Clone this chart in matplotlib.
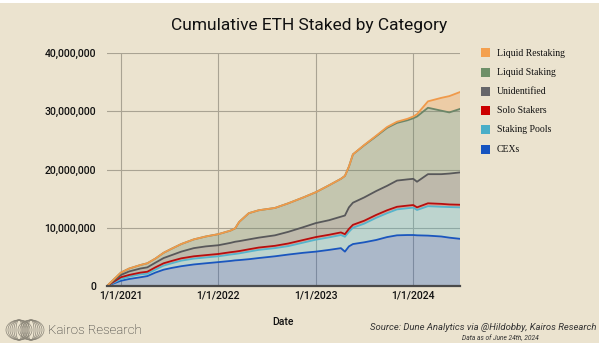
import matplotlib
matplotlib.use("Agg")
import matplotlib.pyplot as plt
import matplotlib.dates as mdates
from matplotlib.patches import Rectangle, Ellipse
from matplotlib.ticker import FuncFormatter, MultipleLocator
import pandas as pd

# dates of the sampled points
dates = [
    "2020-11-10", "2021-01-01", "2021-02-01", "2021-03-15", "2021-04-10",
    "2021-05-10", "2021-06-10", "2021-07-10", "2021-08-15", "2021-10-01",
    "2021-11-15", "2022-01-01", "2022-02-15", "2022-03-05", "2022-03-20",
    "2022-04-25", "2022-06-01", "2022-08-01", "2022-09-20", "2022-11-15",
    "2023-01-01", "2023-02-20", "2023-04-05", "2023-04-20", "2023-05-05",
    "2023-05-20", "2023-07-01", "2023-08-15", "2023-09-25", "2023-11-01",
    "2023-12-10", "2024-01-01", "2024-01-15", "2024-02-25", "2024-04-15",
    "2024-05-15", "2024-06-24",
]

# ETH staked per category, millions
cexs = [0, 0.9, 1.2, 1.5, 1.7, 2.3, 2.8, 3.1, 3.4, 3.7, 3.9, 4.1, 4.3, 4.4,
        4.45, 4.6, 4.8, 5.1, 5.4, 5.7, 5.9, 6.2, 6.5, 5.9, 6.8, 7.2, 7.5, 7.9,
        8.4, 8.7, 8.75, 8.75, 8.7, 8.65, 8.5, 8.3, 8.1]
staking_pools = [0, 0.3, 0.4, 0.5, 0.4, 0.5, 0.7, 0.8, 0.95, 1.0, 1.0, 1.0,
                 1.1, 1.1, 1.15, 1.3, 1.4, 1.4, 1.45, 1.75, 2.05, 2.15, 2.25,
                 2.55, 2.5, 2.8, 3.2, 3.8, 4.1, 4.45, 4.6, 4.7, 4.35, 5.05,
                 5.1, 5.25, 5.4]
solo_stakers = [0, 0.3, 0.3, 0.3, 0.35, 0.4, 0.4, 0.4, 0.4, 0.4, 0.4, 0.4,
                0.4, 0.4, 0.4, 0.4, 0.4, 0.4, 0.45, 0.45, 0.45, 0.45, 0.45,
                0.45, 0.5, 0.5, 0.5, 0.5, 0.5, 0.45, 0.45, 0.45, 0.45, 0.5,
                0.5, 0.45, 0.45]
unidentified = [0, 0.4, 0.6, 0.7, 0.75, 0.8, 0.9, 1.0, 1.15, 1.4, 1.5, 1.5,
                1.6, 1.7, 1.7, 1.7, 1.7, 1.8, 2.0, 2.2, 2.4, 2.5, 2.7, 3.2,
                3.7, 3.8, 4.0, 4.1, 4.2, 4.5, 4.5, 4.5, 4.4, 5.0, 5.1, 5.3,
                5.55]
liquid_staking = [0, 0.4, 0.5, 0.6, 0.7, 0.7, 0.9, 1.1, 1.3, 1.5, 1.7, 1.9,
                  2.1, 2.3, 3.3, 4.5, 4.7, 4.7, 4.9, 5.1, 5.3, 6.0, 6.5, 6.8,
                  7.0, 8.3, 8.95, 9.4, 9.95, 9.9, 10.15, 10.4, 11.2, 11.4,
                  10.9, 10.5, 10.9]
liquid_restaking = [0, 0, 0, 0, 0, 0, 0, 0, 0, 0, 0, 0, 0, 0, 0, 0, 0, 0, 0,
                    0, 0, 0, 0, 0, 0, 0, 0.05, 0.1, 0.15, 0.2, 0.25, 0.3, 0.4,
                    1.1, 2.2, 2.8, 2.9]

labels = ["CEXs", "Staking Pools", "Solo Stakers", "Unidentified",
          "Liquid Staking", "Liquid Restaking"]
line_colors = ["#1A56BE", "#55B4CC", "#B80E0E", "#58585A", "#6C8668", "#F09A4A"]
swatch_colors = ["#1654C0", "#4AAEC8", "#CC0000", "#66666A", "#6E9068", "#F4A04E"]

BG = "#EBE3CF"

x = pd.to_datetime(dates)
series = [cexs, staking_pools, solo_stakers, unidentified, liquid_staking,
          liquid_restaking]
series = [[v * 1e6 for v in s] for s in series]

fig = plt.figure(figsize=(6.0, 3.46), dpi=100)
fig.patch.set_facecolor("white")
fig.patches.append(Rectangle((0, 0.008), 0.998, 0.983, transform=fig.transFigure,
                             facecolor=BG, edgecolor="none", zorder=-10))

ax = fig.add_axes([107 / 600, 1 - 286 / 346, 353 / 600, 233 / 346])
ax.set_facecolor(BG)

ax.stackplot(x, *series, colors=line_colors, alpha=0.3, linewidth=0)
bottom = [0.0] * len(x)
for s, c in zip(series, line_colors):
    bottom = [b + v for b, v in zip(bottom, s)]
    ax.plot(x, bottom, color=c, linewidth=1.3, solid_joinstyle="round", zorder=3)

ax.set_xlim(pd.Timestamp("2020-11-10"), pd.Timestamp("2024-06-24"))
ax.set_ylim(0, 40e6)
ax.yaxis.set_major_locator(MultipleLocator(10e6))
ax.yaxis.set_major_formatter(FuncFormatter(lambda v, p: f"{int(v):,}"))
ax.xaxis.set_major_locator(mdates.YearLocator())
ax.xaxis.set_major_formatter(FuncFormatter(
    lambda v, p: f"{mdates.num2date(v).month}/{mdates.num2date(v).day}/{mdates.num2date(v).year}"))

ax.grid(True, color="#A9A393", linewidth=0.8)
ax.set_axisbelow(True)
for side in ["top", "right", "left"]:
    ax.spines[side].set_visible(False)
ax.spines["bottom"].set_color("#4A4A4A")
ax.spines["bottom"].set_linewidth(1.6)
ax.spines["bottom"].set_zorder(4)
ax.tick_params(length=0, labelsize=7.5, colors="#111111")
ax.tick_params(axis="y", pad=8)
ax.tick_params(axis="x", pad=3)
for lab in ax.get_xticklabels() + ax.get_yticklabels():
    lab.set_fontfamily("Roboto")
    lab.set_fontweight("medium")

fig.text(0.515, 0.925, "Cumulative ETH Staked by Category", ha="center",
         va="center", fontsize=12.5, family="Roboto", color="#111111")
fig.text(0.472, 0.068, "Date", ha="center", va="center", fontsize=7.5,
         family="Roboto", fontweight="medium", color="#111111")

# legend, top entry first
for i, (lab, c) in enumerate(zip(labels[::-1], swatch_colors[::-1])):
    yc = 1 - (53 + i * 19.2) / 346
    fig.patches.append(Rectangle((481 / 600, yc - 4.5 / 346), 9 / 600, 9 / 346,
                                 transform=fig.transFigure, facecolor=c,
                                 edgecolor="none"))
    fig.text(497 / 600, yc, lab, ha="left", va="center", fontsize=7,
             family="Liberation Serif", color="#111111")

# footer: logo and source note
for w in [6, 10, 14, 18, 22, 26]:
    for cx in [19 / 600, 31 / 600]:
        fig.patches.append(Ellipse((cx, 1 - 330 / 346), w / 600, 20 / 346,
                                   transform=fig.transFigure, facecolor="none",
                                   edgecolor="#8A8578", linewidth=0.5))
fig.text(48 / 600, 1 - 330 / 346, "Kairos Research", ha="left", va="center",
         fontsize=9.5, family="Roboto", fontweight="light", color="#222222")
fig.text(597 / 600, 1 - 327 / 346,
         "Source: Dune Analytics via @Hildobby, Kairos Research", ha="right",
         va="center", fontsize=6.8, family="Roboto", style="italic",
         color="#333333")
fig.text(500 / 600, 1 - 338 / 346, "Data as of June 24th, 2024", ha="center",
         va="center", fontsize=4.8, family="Roboto", style="italic",
         color="#333333")

fig.savefig("out.png", dpi=100, facecolor=fig.get_facecolor())
